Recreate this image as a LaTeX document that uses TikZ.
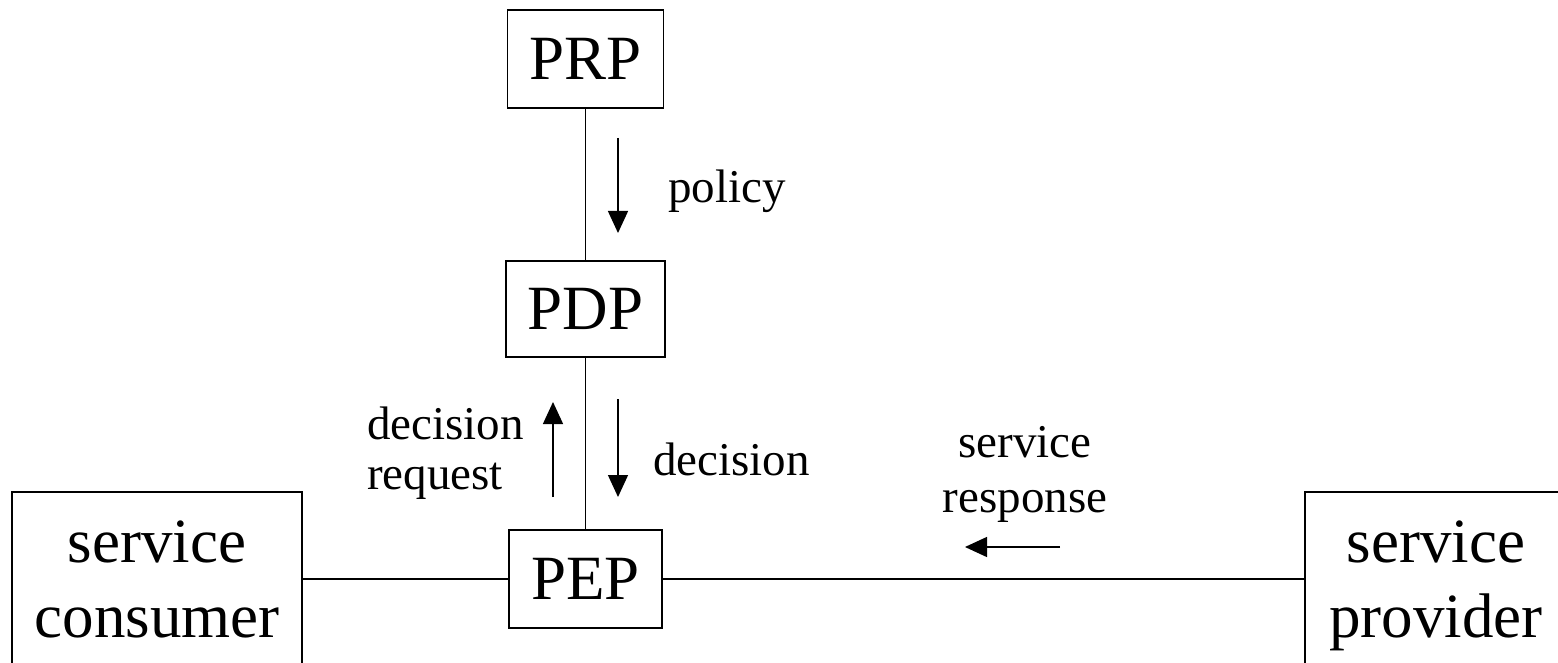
\documentclass[tikz,border=0pt]{standalone}
\usepackage{fontspec}
\setmainfont{Liberation Serif}
\usetikzlibrary{arrows.meta}
\begin{document}
\begin{tikzpicture}[x=1pt,y=-1pt,
  box/.style={draw, line width=1.4pt, inner sep=0pt, align=center,
              font=\fontsize{63}{75}\selectfont},
  link/.style={line width=1.4pt},
  flow/.style={line width=1.4pt, -{Triangle[length=22pt,width=20pt]}},
  lbl/.style={inner sep=0pt, font=\fontsize{47}{52}\selectfont}]
\clip (0,0) rectangle (1558,663);

% policy points, stacked on one vertical axis
\node[box, minimum width=156pt, minimum height=98pt] (prp) at (585.5,59) {PRP};
\node[box, minimum width=159pt, minimum height=96pt] (pdp) at (585.5,309) {PDP};
\node[box, minimum width=153pt, minimum height=98pt] (pep) at (585.5,579) {PEP};

% service endpoints (running past the page edge)
\node[box, minimum width=290pt, minimum height=174pt, text depth=0pt]
  (consumer) at (157,579) {service\\consumer};
\node[box, minimum width=262pt, minimum height=174pt, text depth=0pt]
  (provider) at (1436,579) {service\\provider};

% connections
\draw[link] (prp.south) -- (pdp.north);
\draw[link] (pdp.south) -- (pep.north);
\draw[link] (consumer.east) -- (pep.west);
\draw[link] (pep.east) -- (provider.west);

% message flows
\coordinate (polA) at (618,138);
\coordinate (polB) at (618,233);
\coordinate (decA) at (618,399);
\coordinate (decB) at (618,497);
\coordinate (reqA) at (553,497);
\coordinate (reqB) at (553,402);
\coordinate (resA) at (1060,547);
\coordinate (resB) at (965,547);
\draw[flow] (polA) -- (polB);
\draw[flow] (decA) -- (decB);
\draw[flow] (reqA) -- (reqB);
\draw[flow] (resA) -- (resB);

% labels
\node[lbl, anchor=base west] (polLbl) at (668,203) {policy};
\node[lbl, anchor=base west] (decLbl) at (653,475) {decision};
\node[lbl, anchor=north west, align=left, font=\fontsize{47}{50}\selectfont]
  (reqLbl) at (367,407) {decision\\request};
\node[lbl, anchor=north, align=center, font=\fontsize{47}{55}\selectfont]
  (resLbl) at (1025,426) {service\\response};
\end{tikzpicture}
\end{document}
